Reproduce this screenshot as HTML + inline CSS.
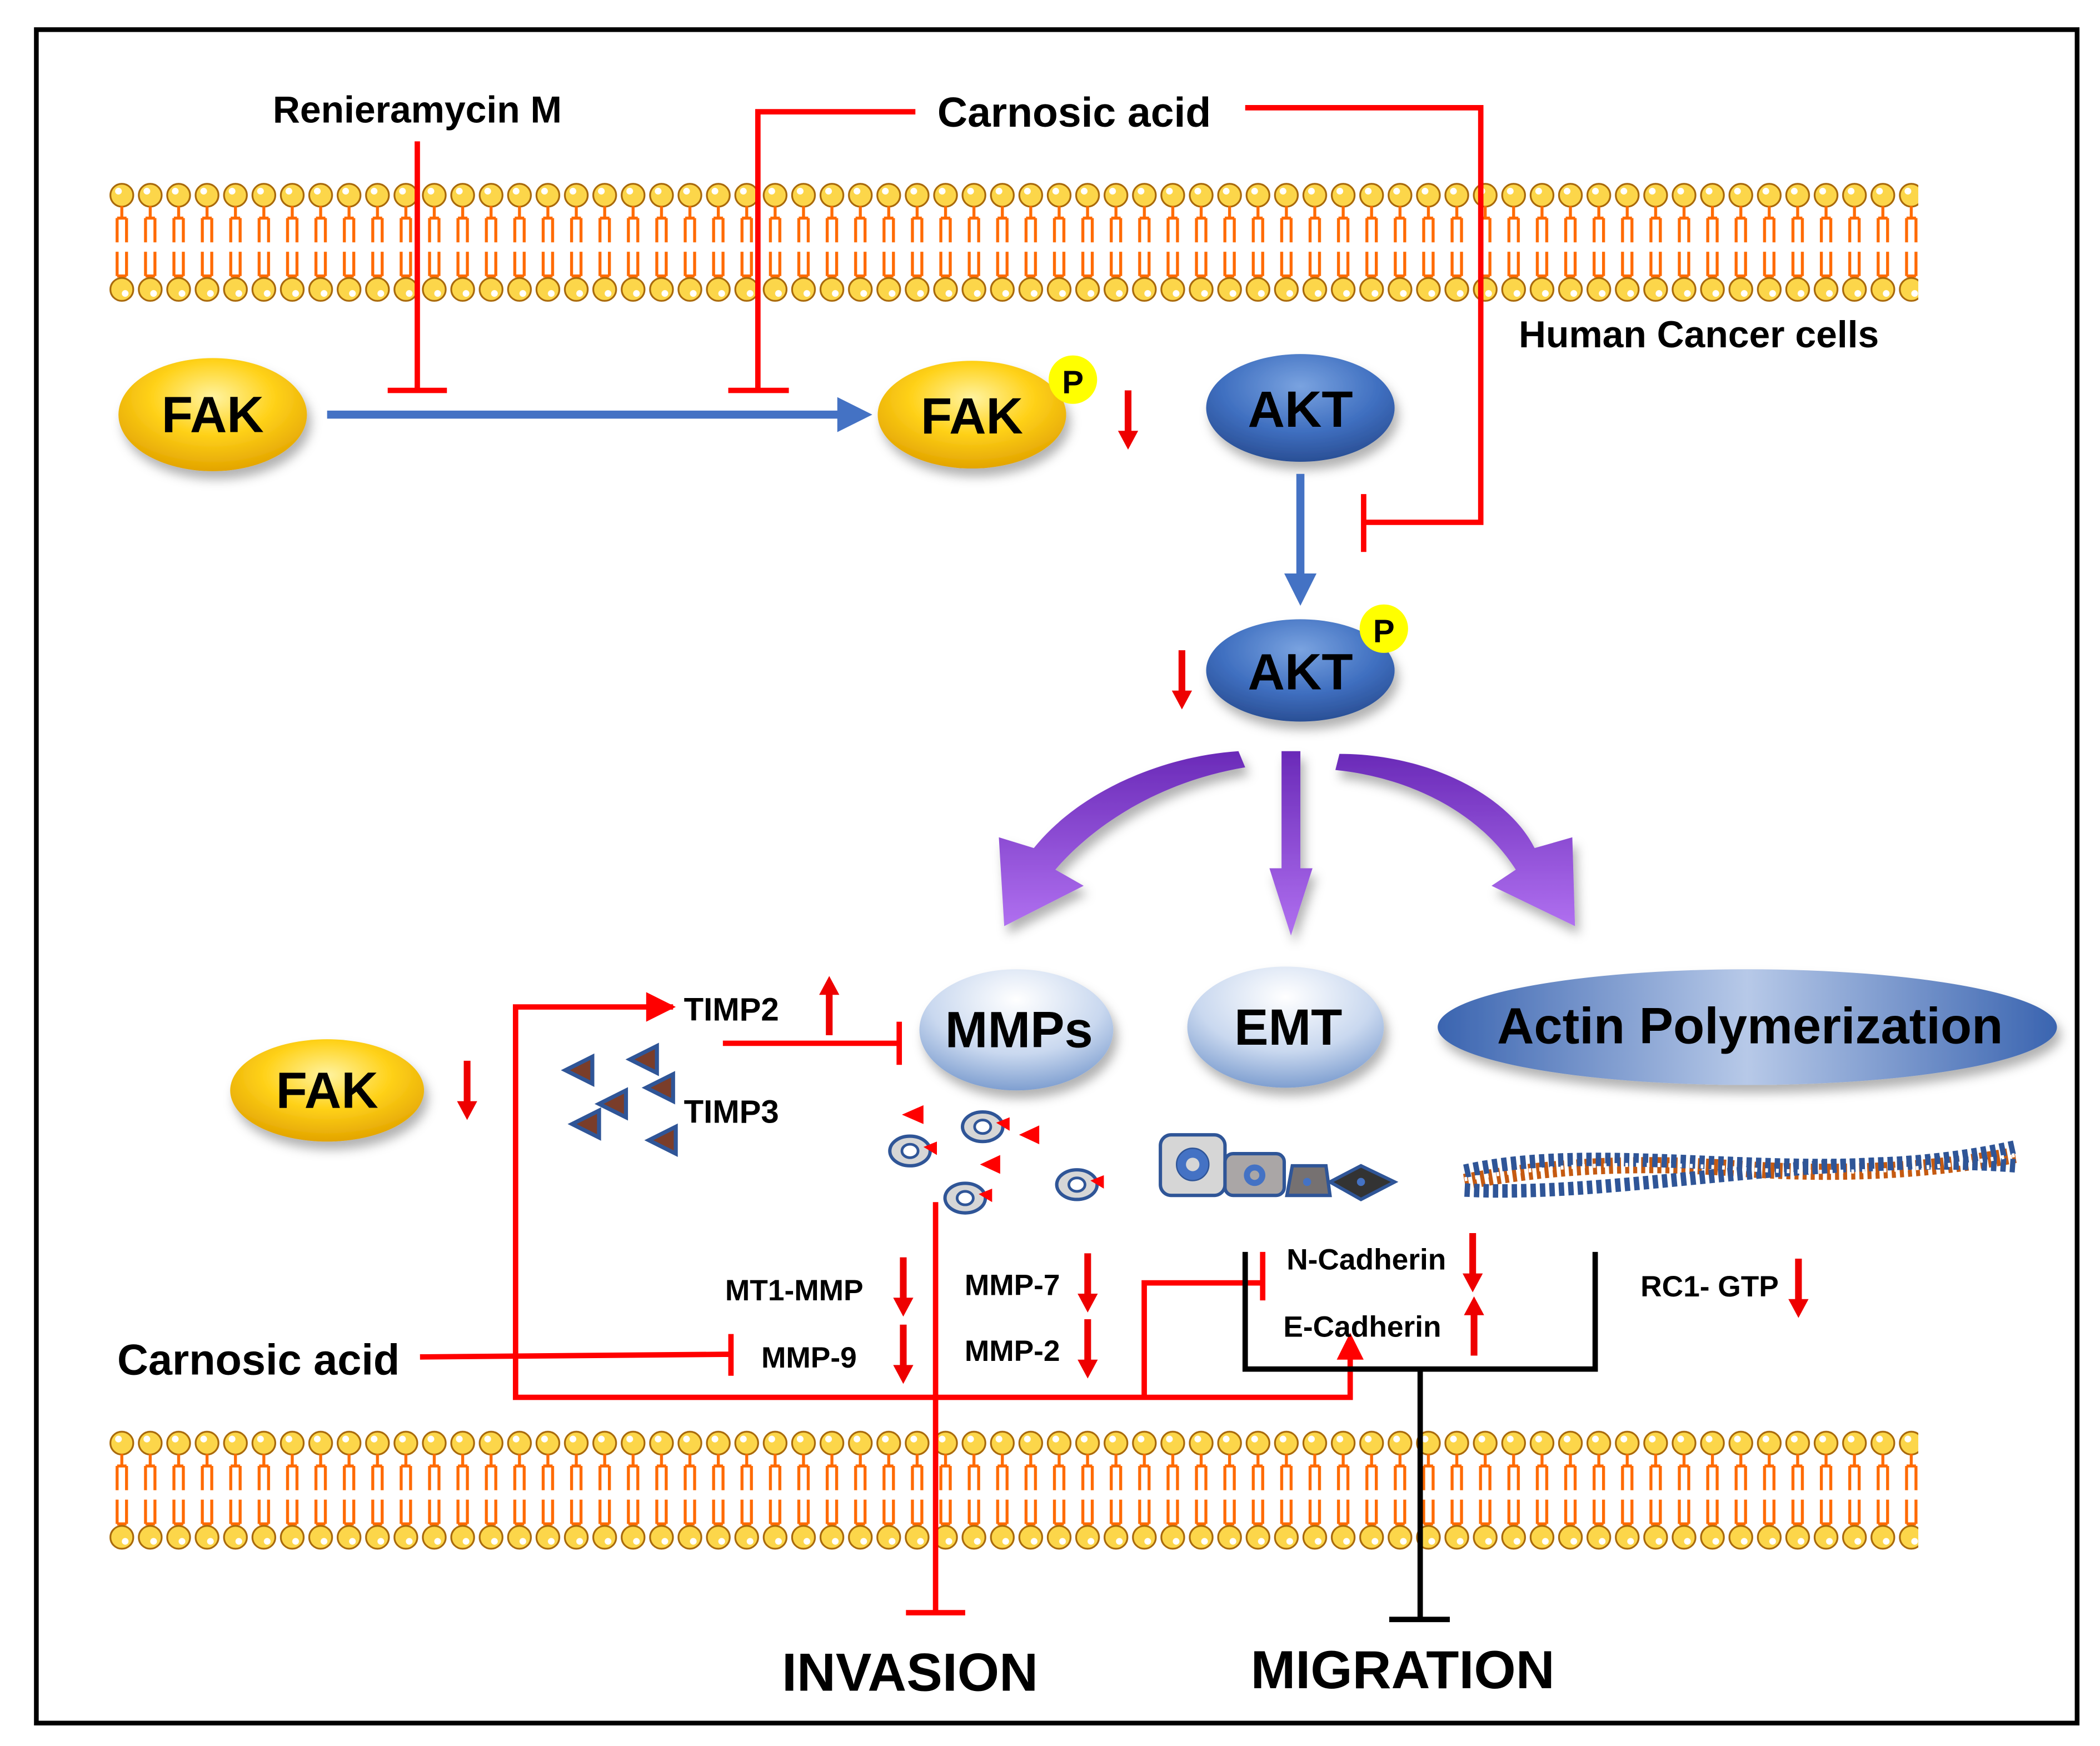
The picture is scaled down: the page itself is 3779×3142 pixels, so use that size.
<!DOCTYPE html>
<html><head><meta charset="utf-8"><style>
html,body{margin:0;padding:0;background:#fff}
svg{display:block}
text{font-family:"Liberation Sans","DejaVu Sans",sans-serif;font-weight:bold}
</style></head><body>
<svg width="3779" height="3142" viewBox="0 0 1560 1297" xmlns="http://www.w3.org/2000/svg">
<defs>
<pattern id="lipid" x="80" y="135" width="21.1" height="90" patternUnits="userSpaceOnUse">
  <circle cx="10.5" cy="10" r="8.5" fill="#fcd64a" stroke="#a8680a" stroke-width="1.3"/>
  <circle cx="8" cy="7" r="2.5" fill="#fff"/>
  <path d="M10.5 18v8 M7 27v18 M14 27v18 M7 27h7" stroke="#ff6a00" stroke-width="2.2" fill="none"/>
  <path d="M7 52v18 M14 52v18 M7 70h7 M10.5 70v8" stroke="#ff6a00" stroke-width="2.2" fill="none"/>
  <circle cx="10.5" cy="80" r="8.5" fill="#fcd64a" stroke="#a8680a" stroke-width="1.3"/>
  <circle cx="13" cy="83" r="2.5" fill="#fff"/>
</pattern>
<radialGradient id="gold" cx="50%" cy="35%" r="65%">
  <stop offset="0" stop-color="#fff3a0"/><stop offset="0.5" stop-color="#ffd21a"/><stop offset="1" stop-color="#e3a400"/>
</radialGradient>
<radialGradient id="blue" cx="50%" cy="30%" r="70%">
  <stop offset="0" stop-color="#7aa3e0"/><stop offset="0.6" stop-color="#3f6fc0"/><stop offset="1" stop-color="#2a4f95"/>
</radialGradient>
<radialGradient id="lblue" cx="50%" cy="25%" r="75%">
  <stop offset="0" stop-color="#ffffff"/><stop offset="0.6" stop-color="#c9d8ef"/><stop offset="1" stop-color="#7f9fd0"/>
</radialGradient>
<linearGradient id="actin" x1="0" y1="0" x2="1" y2="0">
  <stop offset="0" stop-color="#3a64b0"/><stop offset="0.5" stop-color="#b7c9e8"/><stop offset="1" stop-color="#3a64b0"/>
</linearGradient>
<linearGradient id="purp" x1="0" y1="0" x2="0" y2="1">
  <stop offset="0" stop-color="#6a2ab8"/><stop offset="1" stop-color="#b070f0"/>
</linearGradient>
<filter id="sh" x="-30%" y="-30%" width="160%" height="180%"><feDropShadow dx="3" dy="6" stdDeviation="4" flood-color="#000" flood-opacity="0.3"/></filter>
<g id="dn"><path d="M-2.5 -22v30h-5l7.5 14 7.5-14h-5v-30z" fill="#e00"/></g>
<g id="up"><path d="M-2.5 22v-30h-5l7.5-14 7.5 14h-5v30z" fill="#e00"/></g>
<g id="tri"><path d="M0 0L20 -10V10Z" fill="#7a3d2a" stroke="#2f5597" stroke-width="3"/></g>
<g id="mm"><ellipse cx="0" cy="0" rx="15" ry="11" fill="#d6d6d6" stroke="#2f5597" stroke-width="2.5"/><ellipse cx="0" cy="0" rx="6" ry="5" fill="#fff" stroke="#2f5597" stroke-width="2"/><path d="M10 -3L20 -7V3Z" fill="#f00"/></g>
</defs>

<rect x="27" y="22" width="1516" height="1258" fill="#fff" stroke="#000" stroke-width="3.5"/>

<rect x="80" y="135" width="1345" height="90" fill="url(#lipid)"/>
<g transform="translate(0,927)"><rect x="80" y="135" width="1345" height="90" fill="url(#lipid)"/></g>

<text x="310" y="91" font-size="28" text-anchor="middle">Renieramycin M</text>
<text x="798" y="94" font-size="31" text-anchor="middle">Carnosic acid</text>
<text x="1262" y="258" font-size="28" text-anchor="middle">Human Cancer cells</text>

<g stroke="#f00" stroke-width="4" fill="none">
<path d="M310 105V290 M288 290H332"/>
<path d="M680 83H563V290 M541 290H586"/>
<path d="M925 80H1100V388H1013 M1013 367V410"/>
</g>

<ellipse cx="158" cy="308" rx="70" ry="42" fill="url(#gold)" filter="url(#sh)"/>
<text x="158" y="321" font-size="38" text-anchor="middle">FAK</text>
<line x1="243" y1="308" x2="628" y2="308" stroke="#4472c4" stroke-width="6"/>
<path d="M622 295L648 308L622 321Z" fill="#4472c4"/>
<ellipse cx="722" cy="308" rx="70" ry="40" fill="url(#gold)" filter="url(#sh)"/>
<text x="722" y="322" font-size="38" text-anchor="middle">FAK</text>
<circle cx="797" cy="282" r="18" fill="#ffff00"/>
<text x="797" y="292" font-size="24" text-anchor="middle">P</text>
<use href="#dn" x="838" y="312"/>
<ellipse cx="966" cy="303" rx="70" ry="40" fill="url(#blue)" filter="url(#sh)"/>
<text x="966" y="317" font-size="38" text-anchor="middle">AKT</text>
<line x1="966" y1="352" x2="966" y2="430" stroke="#4472c4" stroke-width="6"/>
<path d="M954 426L966 450L978 426Z" fill="#4472c4"/>
<ellipse cx="966" cy="498" rx="70" ry="38" fill="url(#blue)" filter="url(#sh)"/>
<text x="966" y="512" font-size="38" text-anchor="middle">AKT</text>
<circle cx="1028" cy="467" r="18" fill="#ffff00"/>
<text x="1028" y="477" font-size="24" text-anchor="middle">P</text>
<use href="#dn" x="878" y="505"/>

<g fill="url(#purp)" filter="url(#sh)">
<path d="M920 558 C860 562 800 590 768 630 L742 622 L746 688 L805 658 L784 646 C815 610 865 580 925 570Z"/>
<path d="M952 558H966V645H975L959 695L943 645H952Z"/>
<path d="M995 560 C1060 560 1120 590 1140 630 L1168 622 L1170 688 L1108 658 L1126 646 C1100 605 1050 578 992 572Z"/>
</g>

<ellipse cx="755" cy="765" rx="72" ry="45" fill="url(#lblue)" filter="url(#sh)"/>
<text x="757" y="778" font-size="38" text-anchor="middle">MMPs</text>
<ellipse cx="955" cy="763" rx="73" ry="45" fill="url(#lblue)" filter="url(#sh)"/>
<text x="957" y="776" font-size="38" text-anchor="middle">EMT</text>
<ellipse cx="1298" cy="763" rx="230" ry="43" fill="url(#actin)" filter="url(#sh)"/>
<text x="1300" y="775" font-size="38" text-anchor="middle">Actin Polymerization</text>

<text x="508" y="758" font-size="24">TIMP2</text>
<use href="#up" x="616" y="747"/>
<text x="508" y="834" font-size="24">TIMP3</text>
<g stroke="#f00" stroke-width="4" fill="none">
<path d="M537 775H668 M668 759V791"/>
<path d="M500 748H383V1038H1003V1005"/>
<path d="M850 1038V953H938 M938 930V966"/>
<path d="M312 1008L543 1006 M543 991V1022"/>
<path d="M695 893V1198 M673 1198H717"/>
</g>
<path d="M480 737L502 748L480 759Z" fill="#f00"/>
<path d="M993 1010L1003 990L1013 1010Z" fill="#f00"/>

<ellipse cx="243" cy="810" rx="72" ry="38" fill="url(#gold)" filter="url(#sh)"/>
<text x="243" y="823" font-size="38" text-anchor="middle">FAK</text>
<use href="#dn" x="347" y="810"/>

<use href="#tri" x="420" y="795"/><use href="#tri" x="468" y="787"/><use href="#tri" x="482" y="847"/>
<use href="#tri" x="480" y="808"/><use href="#tri" x="445" y="820"/><use href="#tri" x="425" y="835"/>

<use href="#mm" x="730" y="837"/><use href="#mm" x="676" y="855"/><use href="#mm" x="717" y="890"/><use href="#mm" x="800" y="880"/>
<path d="M670 828L686 821V835Z M757 843L772 836V850Z M728 865L743 858V872Z" fill="#f00"/>

<rect x="862" y="843" width="48" height="45" rx="8" fill="#d6d6d6" stroke="#2f5597" stroke-width="2.5"/>
<circle cx="886" cy="865" r="12" fill="#4472c4" stroke="#2f5597"/><circle cx="886" cy="865" r="5" fill="#d6d6d6"/>
<rect x="910" y="857" width="44" height="31" rx="6" fill="#aaa6a6" stroke="#2f5597" stroke-width="2.5"/>
<circle cx="932" cy="873" r="8" fill="#4472c4"/><circle cx="932" cy="873" r="3.5" fill="#aaa6a6"/>
<path d="M956 888L960 866H985L988 888Z" fill="#767171" stroke="#2f5597" stroke-width="2.5"/>
<circle cx="971" cy="878" r="3" fill="#4472c4"/>
<path d="M988 878L1011 866L1036 878L1011 891Z" fill="#333" stroke="#2f5597" stroke-width="2.5"/>
<circle cx="1011" cy="878" r="3" fill="#4472c4"/>

<g fill="none">
<path d="M1088 878 Q1180 860 1290 868 T1497 858" stroke="#c55a11" stroke-width="12" stroke-dasharray="3 3"/>
<path d="M1088 870 C1200 845 1350 885 1497 852" stroke="#2f5597" stroke-dasharray="4 3" stroke-width="10"/>
<path d="M1088 884 C1200 890 1350 855 1497 866" stroke="#2f5597" stroke-dasharray="4 3" stroke-width="10"/>
<path d="M1088 876 Q1180 860 1290 868 T1497 858" stroke="#fff" stroke-width="3" stroke-dasharray="2 6"/>
</g>

<text x="590" y="966" font-size="22" text-anchor="middle">MT1-MMP</text><use href="#dn" x="671" y="956"/>
<text x="752" y="962" font-size="22" text-anchor="middle">MMP-7</text><use href="#dn" x="808" y="953"/>
<text x="601" y="1016" font-size="22" text-anchor="middle">MMP-9</text><use href="#dn" x="671" y="1006"/>
<text x="752" y="1011" font-size="22" text-anchor="middle">MMP-2</text><use href="#dn" x="808" y="1002"/>
<text x="192" y="1021" font-size="32" text-anchor="middle">Carnosic acid</text>

<path d="M925 930V1017H1185V930 M1055 1017V1203 M1032 1203H1077" stroke="#000" stroke-width="4" fill="none"/>
<text x="1015" y="943" font-size="22" text-anchor="middle">N-Cadherin</text><use href="#dn" x="1094" y="938"/>
<text x="1012" y="993" font-size="22" text-anchor="middle">E-Cadherin</text><use href="#up" x="1095" y="985"/>
<text x="1270" y="963" font-size="22" text-anchor="middle">RC1- GTP</text><use href="#dn" x="1336" y="957"/>

<text x="676" y="1256" font-size="40" text-anchor="middle">INVASION</text>
<text x="1042" y="1254" font-size="40" text-anchor="middle">MIGRATION</text>
</svg>
</body></html>
